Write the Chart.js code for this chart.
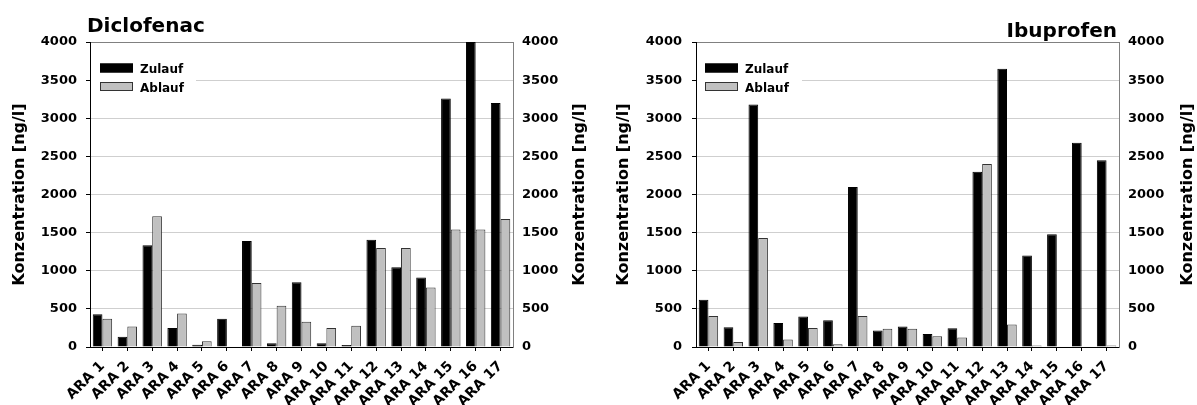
<!DOCTYPE html>
<html>
<head>
<meta charset="utf-8">
<script src="https://cdn.jsdelivr.net/npm/chart.js@4.4.1/dist/chart.umd.min.js"></script>
<style>
  html, body { margin: 0; padding: 0; background: #fff; }
  #wrap { position: relative; width: 1197px; height: 405px; overflow: hidden; }
  .panel { position: absolute; top: 0; }
</style>
</head>
<body>
<div id="wrap">
  <div class="panel" style="left:0px"><canvas id="c1" width="598" height="405"></canvas></div>
  <div class="panel" style="left:598px"><canvas id="c2" width="599" height="405"></canvas></div>
</div>
<script>
// Kläranlagen (ARA) 1–17, Konzentration in ng/l
const categories = ['ARA 1','ARA 2','ARA 3','ARA 4','ARA 5','ARA 6','ARA 7','ARA 8','ARA 9',
  'ARA 10','ARA 11','ARA 12','ARA 13','ARA 14','ARA 15','ARA 16','ARA 17'];

const diclofenacZulauf = [430, 135, 1335, 250, 30, 370, 1390, 50, 850, 50, 25, 1405, 1045, 910, 3260, 4000, 3200];
const diclofenacAblauf = [370, 270, 1715, 440, 75, 0, 840, 540, 330, 250, 280, 1300, 1300, 780, 1540, 1540, 1680];

const ibuprofenZulauf = [620, 260, 3180, 315, 400, 350, 2100, 215, 270, 170, 245, 2300, 3650, 1200, 1480, 2680, 2450];
const ibuprofenAblauf = [405, 65, 1430, 100, 250, 35, 405, 240, 240, 140, 125, 2400, 295, 20, 0, 0, 20];

const yMin = 0, yMax = 4000, yStep = 500;
const axisTitle = 'Konzentration [ng/l]';
const seriesNames = ['Zulauf', 'Ablauf'];

const FONT = 'DejaVu Sans';
Chart.defaults.font.family = FONT;
Chart.defaults.font.weight = 'bold';
Chart.defaults.color = '#000';

const ZU_COLOR = '#000000';
const AB_COLOR = '#c0c0c0';
const AB_EDGE = '#333333';

// Draws the chart title, the rotated axis titles and the framed legend
const decorations = {
  id: 'decorations',
  afterDraw(chart, args, o) {
    const ctx = chart.ctx;
    const ca = chart.chartArea;
    ctx.save();
    // title
    ctx.font = 'bold 20px ' + FONT;
    ctx.fillStyle = '#000';
    ctx.textBaseline = 'alphabetic';
    ctx.textAlign = o.titleAlign;
    ctx.fillText(o.title, o.titleX, o.titleY);

    // axis titles, both read bottom-to-top
    ctx.font = 'bold 16px ' + FONT;
    ctx.textAlign = 'center';
    ctx.textBaseline = 'middle';
    const midY = (ca.top + ca.bottom) / 2;
    [o.axisLX, o.axisRX].forEach(x => {
      ctx.save();
      ctx.translate(x, midY);
      ctx.rotate(-Math.PI / 2);
      ctx.fillText(axisTitle, 0, 0);
      ctx.restore();
    });

    // legend
    ctx.fillStyle = '#fff';
    ctx.fillRect(ca.left + 1, 54, o.legendRight - ca.left - 1, 44);
    const ds = chart.data.datasets;
    ctx.font = 'bold 12px ' + FONT;
    ctx.textAlign = 'left';
    ctx.textBaseline = 'alphabetic';
    ds.forEach((d, i) => {
      const y = 63.5 + i * 18.5;
      ctx.fillStyle = d.backgroundColor;
      ctx.fillRect(o.legendX, y, 33, 9);
      ctx.strokeStyle = d.borderColor;
      ctx.lineWidth = 1;
      ctx.strokeRect(o.legendX + 0.5, y + 0.5, 32, 8);
      ctx.fillStyle = '#000';
      ctx.fillText(d.label, o.legendX + 40, y + 9.5);
    });
    ctx.restore();
  }
};

const plainNumber = v => String(v);

function makeChart(id, zu, ab, g) {
  const W = g.W;
  return new Chart(document.getElementById(id), {
    type: 'bar',
    data: {
      labels: categories,
      datasets: [
        { label: seriesNames[0], data: zu, backgroundColor: ZU_COLOR, borderColor: '#000', borderWidth: 1, yAxisID: 'y' },
        { label: seriesNames[1], data: ab, backgroundColor: AB_COLOR, borderColor: AB_EDGE, borderWidth: 1, yAxisID: 'y' }
      ]
    },
    options: {
      responsive: false,
      animation: false,
      devicePixelRatio: 1,
      layout: { padding: { top: 42, left: 0, right: 0, bottom: 0 } },
      datasets: { bar: { categoryPercentage: 0.78, barPercentage: 1.0 } },
      plugins: {
        legend: { display: false },
        tooltip: { enabled: false },
        title: { display: false },
        decorations: g.deco
      },
      scales: {
        x: {
          offset: true,
          grid: { offset: false, drawOnChartArea: false, drawTicks: true, tickLength: 4, tickColor: '#000' },
          border: { color: '#000', width: 1 },
          ticks: { minRotation: 45, maxRotation: 45, autoSkip: false, padding: 7,
                   font: { size: 14, weight: 'bold', family: FONT }, color: '#000' },
          afterFit(s) { s.height = 405 - 347; }
        },
        y: {
          position: 'left',
          min: yMin, max: yMax,
          ticks: { stepSize: yStep, padding: g.padL, callback: plainNumber,
                   font: { size: 13, weight: 'bold', family: FONT }, color: '#000' },
          grid: {
            color: c => (c.tick && c.tick.value === yMax) ? '#808080' : '#cfcfcf',
            lineWidth: 1, drawTicks: true, tickLength: 4, tickColor: '#000'
          },
          border: { color: '#000', width: 1 },
          afterFit(s) { s.width = g.left; }
        },
        y2: {
          position: 'right',
          min: yMin, max: yMax,
          ticks: { stepSize: yStep, padding: g.padR, callback: plainNumber,
                   font: { size: 13, weight: 'bold', family: FONT }, color: '#000' },
          grid: { drawOnChartArea: false, drawTicks: false },
          border: { color: '#808080', width: 1 },
          afterFit(s) { s.width = W - g.right; }
        }
      }
    },
    plugins: [decorations]
  });
}

makeChart('c1', diclofenacZulauf, diclofenacAblauf, {
  W: 598, left: 90, right: 513, padL: 9, padR: 9,
  deco: { title: 'Diclofenac', titleX: 87, titleY: 32, titleAlign: 'left',
          axisLX: 20, axisRX: 580, legendX: 100, legendRight: 196 }
});

makeChart('c2', ibuprofenZulauf, ibuprofenAblauf, {
  W: 599, left: 98, right: 521, padL: 10, padR: 9,
  deco: { title: 'Ibuprofen', titleX: 519, titleY: 37, titleAlign: 'right',
          axisLX: 26, axisRX: 590, legendX: 107, legendRight: 204 }
});
</script>
</body>
</html>
